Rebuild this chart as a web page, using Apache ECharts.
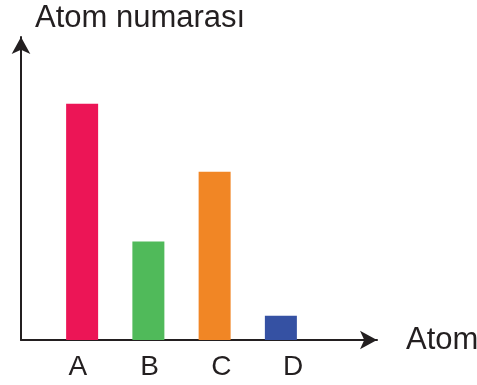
<!DOCTYPE html>
<html>
<head>
<meta charset="utf-8">
<script src="https://cdn.jsdelivr.net/npm/echarts@6/dist/echarts.min.js"></script>
<style>
    html, body { margin: 0; padding: 0; background: #fff; }
    #chart { width: 477px; height: 385px; }
</style>
</head>
<body>
<div id="chart"></div>
<script>
// data
const categories = ['A', 'B', 'C', 'D'];
const atomNumbers = [78, 32.5, 55.5, 8];
const barColors = ['#ec1556', '#50ba5a', '#f18625', '#3551a3'];

const axisColor = '#231f20';
const fontFamily = 'Liberation Sans, Arial, sans-serif';

const chart = echarts.init(document.getElementById('chart'));
chart.setOption({
    backgroundColor: '#fff',
    animation: false,
    grid: [
        // axes with arrows
        { left: 21, right: 100, top: 37, bottom: 45, outerBoundsMode: 'none' },
        // bars
        { left: 49, width: 265, top: 37, bottom: 45, outerBoundsMode: 'none' },
        // category labels (a bit offset from the bars in the original)
        { left: 42, width: 287, top: 37, bottom: 45, outerBoundsMode: 'none' }
    ],
    xAxis: [{
        gridIndex: 0,
        type: 'value',
        min: 0,
        max: 1,
        name: 'Atom',
        nameLocation: 'end',
        nameGap: 29,
        nameTextStyle: { color: axisColor, fontSize: 31, fontFamily: fontFamily },
        axisLine: {
            show: true,
            symbol: ['none', 'arrow'],
            symbolSize: [14, 17],
            lineStyle: { color: axisColor, width: 2 }
        },
        axisTick: { show: false },
        axisLabel: { show: false },
        splitLine: { show: false }
    }, {
        gridIndex: 1,
        type: 'category',
        data: categories,
        axisLine: { show: false },
        axisTick: { show: false },
        axisLabel: { show: false }
    }, {
        gridIndex: 2,
        type: 'category',
        data: categories,
        axisLine: { show: false },
        axisTick: { show: false },
        axisLabel: { color: axisColor, fontSize: 28, fontFamily: fontFamily, margin: 13 }
    }],
    yAxis: [{
        gridIndex: 0,
        type: 'value',
        min: 0,
        max: 1,
        name: 'Atom numarası',
        nameLocation: 'end',
        nameGap: 3,
        nameTextStyle: {
            color: axisColor, fontSize: 31, fontFamily: fontFamily,
            align: 'left', padding: [0, 0, 0, 14]
        },
        axisLine: {
            show: true,
            symbol: ['none', 'arrow'],
            symbolSize: [14, 17],
            lineStyle: { color: axisColor, width: 2 }
        },
        axisTick: { show: false },
        axisLabel: { show: false },
        splitLine: { show: false }
    }, {
        gridIndex: 1,
        type: 'value',
        min: 0,
        max: 100,
        show: false
    }, {
        gridIndex: 2,
        type: 'value',
        min: 0,
        max: 1,
        show: false
    }],
    series: [{
        type: 'bar',
        xAxisIndex: 1,
        yAxisIndex: 1,
        barWidth: 32,
        data: atomNumbers.map((v, i) => ({ value: v, itemStyle: { color: barColors[i] } }))
    }]
});
</script>
</body>
</html>
